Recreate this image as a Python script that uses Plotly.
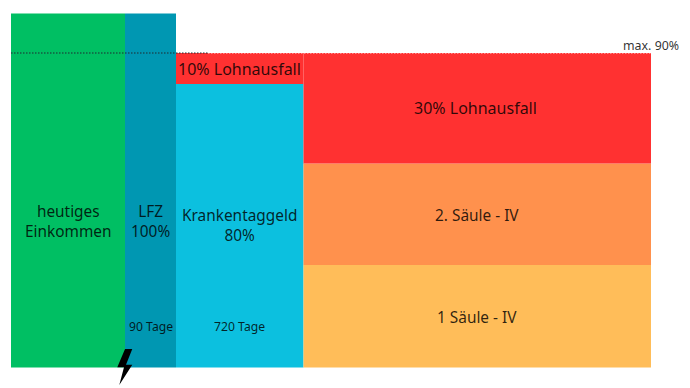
import plotly.graph_objects as go

# Column widths are the chart's own units; heights are percent of income.
column_names = ["heutiges Einkommen", "LFZ", "Krankentaggeld", "Invalidität"]
column_widths = [114, 51, 127.5, 347.5]

segment_names = ["heutiges Einkommen", "LFZ", "Krankentaggeld", "10% Lohnausfall",
                 "1 Säule - IV", "2. Säule - IV", "30% Lohnausfall"]
segment_column = [0, 1, 2, 2, 3, 3, 3]
segment_values = [101.3, 101.3, 81.1, 8.9, 29.3, 29.1, 31.6]
segment_colors = ["#00BF63", "#0097B2", "#0CC0DF", "#FF3131", "#FFBD59", "#FF914D", "#FF3131"]

limit_value = 90
limit_label = "max. 90%"

WIDTH, HEIGHT = 690, 388
X0_PX, Y0_PX = 11, 367.5
PX_PER_PCT = 314.5 / 90

FONT = "Noto Sans"
INK = "rgba(0,0,0,0.82)"

starts = [sum(column_widths[:i]) for i in range(len(column_widths))]
bases = {}
fig = go.Figure()
for name, col, val, color in zip(segment_names, segment_column, segment_values, segment_colors):
    base = bases.get(col, 0)
    fig.add_trace(go.Bar(
        x=[starts[col]], y=[val], base=[base], width=[column_widths[col]], offset=0,
        marker=dict(color=color, line=dict(width=0)), name=name, showlegend=False,
    ))
    bases[col] = base + val

total_w = sum(column_widths)
fig.add_trace(go.Scatter(
    x=[0, starts[2] + 32], y=[limit_value, limit_value], mode="lines",
    line=dict(color="#1f2a30", width=1.2, dash="1.5px,1.5px"), showlegend=False,
))
fig.add_trace(go.Scatter(
    x=[starts[2] + 32, total_w], y=[limit_value, limit_value], mode="lines",
    line=dict(color="rgba(255,255,255,0.9)", width=1, dash="1.5px,1.5px"), showlegend=False,
))

def label(x, y, text, size, xshift=0):
    fig.add_annotation(x=x, y=y, text=text, showarrow=False, xref="x", yref="y",
                       font=dict(family=FONT, size=size, color=INK), align="center",
                       xanchor="center", yanchor="middle", xshift=xshift)

def mid(col):
    return starts[col] + column_widths[col] / 2

label(mid(0), 41.7, "heutiges<br>Einkommen", 15.4)
label(mid(1), 41.7, "LFZ<br>100%", 15.4)
label(mid(2), 40.5, "Krankentaggeld<br>80%", 15.4)
label(mid(2), 85.4, "10% Lohnausfall", 16)
label(mid(3), 74.2, "30% Lohnausfall", 16, xshift=-1.5)
label(mid(3), 43.5, "2. Säule - IV", 15.4)
label(mid(3), 14.3, "1 Säule - IV", 15.4)
label(mid(1), 11.6, "90 Tage", 12.2)
label(mid(2), 11.6, "720 Tage", 12.2)
label(total_w, 90, limit_label, 12.4)
fig.layout.annotations[-1].update(xanchor="left", yanchor="bottom", xshift=-30, yshift=-3)

# Lightning bolt marking the onset (decoration, in paper coordinates)
bolt = [(132.3, 349), (125, 349), (117.3, 367.3), (124, 367.3), (119.3, 385), (132.3, 364.7), (126, 364.7)]
path = "M " + " L ".join(f"{x / WIDTH:.4f},{1 - y / HEIGHT:.4f}" for x, y in bolt) + " Z"
fig.add_shape(type="path", path=path, xref="paper", yref="paper",
              fillcolor="#000000", line=dict(width=0), layer="above")

fig.update_layout(
    width=WIDTH, height=HEIGHT, autosize=False,
    margin=dict(l=0, r=0, t=0, b=0),
    paper_bgcolor="white", plot_bgcolor="white", barmode="overlay",
    xaxis=dict(range=[-X0_PX, WIDTH - X0_PX], visible=False, fixedrange=True),
    yaxis=dict(range=[-(HEIGHT - Y0_PX) / PX_PER_PCT, Y0_PX / PX_PER_PCT], visible=False, fixedrange=True),
    font=dict(family=FONT),
)
fig.write_html("out.html", config={"displayModeBar": False},
               post_script="document.body.style.margin='0';document.documentElement.style.overflow='hidden';")
